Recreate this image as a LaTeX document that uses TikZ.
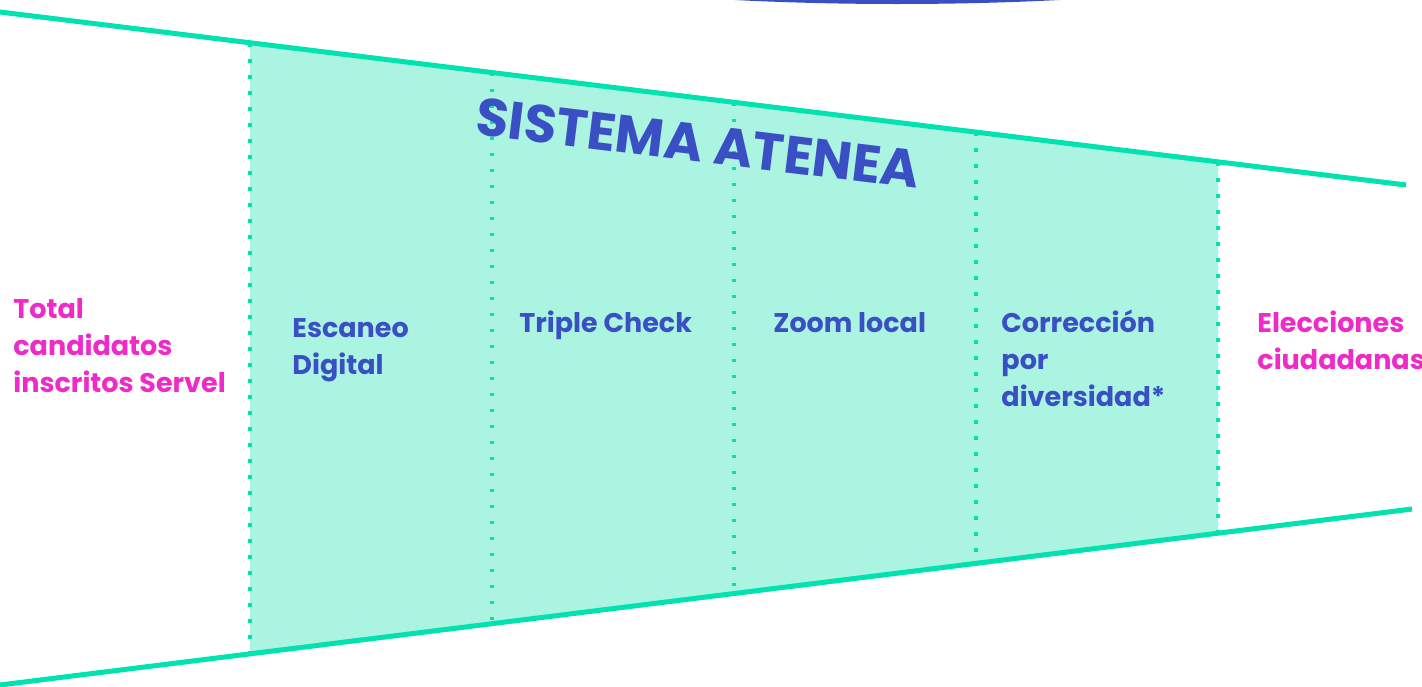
\documentclass[tikz,border=0pt]{standalone}
\usepackage{fontspec}
\setmainfont{Poppins}
\newlength{\du}
\setlength{\du}{0.5pt}
\definecolor{atgreen}{RGB}{0,226,176}
\definecolor{atfill}{RGB}{171,244,226}
\definecolor{atblue}{RGB}{59,79,196}
\definecolor{atpink}{RGB}{238,42,200}
\tikzset{
  borde/.style={draw=atgreen,line width=5\du},
  puntos/.style={draw=atgreen,line width=3.5\du,dash pattern=on 3.5\du off 12.5\du},
  etapa/.style={anchor=base west,align=left,inner sep=0pt,text=atblue,
    font=\bfseries\fontsize{13.5}{18.3}\selectfont},
  extremo/.style={etapa,text=atpink},
  titulo/.style={text=atblue,inner sep=0pt,rotate=-7,
    font=\bfseries\fontsize{26.5}{30}\selectfont},
}

\begin{document}
\begin{tikzpicture}[x=\du,y=-\du]
\useasboundingbox (0,0) rectangle (1422,686);
% arco superior
\begin{scope}
\clip (0,0) rectangle (1422,686);
\fill[atblue] (897,-80) ellipse [x radius=531, y radius=84];
\end{scope}
% embudo
\fill[atfill] (250,43) -- (1218,162) -- (1218,533) -- (250,654) -- cycle;
\foreach \x in {250,492,734,976,1218}
  \draw[puntos] (\x,{12.3+0.123*\x}) -- (\x,{685-0.125*\x});
\draw[borde] (0,12) -- (1406,185);
\draw[borde] (0,685) -- (1412,509);
% textos (base = ultima linea)
\node[titulo] (sistema) at (698,143) {SISTEMA ATENEA};
\node[extremo] (total) at (13,392) {Total\\candidatos\\inscritos Servel};
\node[etapa] (escaneo) at (292,374) {Escaneo\\Digital};
\node[etapa] (triple) at (519,332) {Triple Check};
\node[etapa] (zoom) at (773,332) {Zoom local};
\node[etapa] (correccion) at (1001,406) {Corrección\\por\\diversidad*};
\node[extremo] (elecciones) at (1257,369) {Elecciones\\ciudadanas};
\end{tikzpicture}
\end{document}
